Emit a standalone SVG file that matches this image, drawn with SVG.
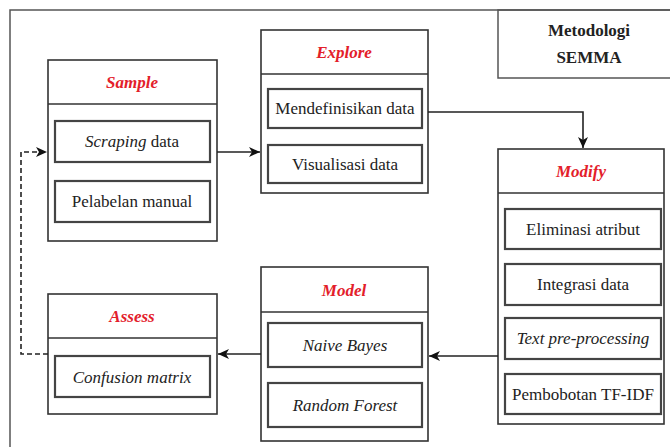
<svg xmlns="http://www.w3.org/2000/svg" width="670" height="447" viewBox="0 0 670 447">
  <defs>
    <marker id="arrow" markerUnits="userSpaceOnUse" markerWidth="12" markerHeight="12" viewBox="0 0 12 12" refX="11" refY="6" orient="auto">
      <path d="M0,1 L11,6 L0,11 L3,6 Z" fill="#111"/>
    </marker>
    <style>
      .frame { fill: none; stroke: #555; stroke-width: 1.5; }
      .node { fill: #fff; stroke: #333; stroke-width: 1.6; }
      .item { fill: #fff; stroke: #444; stroke-width: 2.2; }
      .sep { stroke: #333; stroke-width: 1.6; }
      .title { font-size: 17px; font-style: italic; font-weight: bold; fill: #e3202a; text-anchor: middle; }
      .label { font-size: 17px; fill: #222; text-anchor: middle; }
      .it { font-style: italic; }
      .head { font-size: 17px; font-weight: bold; fill: #222; text-anchor: middle; }
      .link { fill: none; stroke: #222; stroke-width: 1.6; }
      .dash { fill: none; stroke: #222; stroke-width: 1.6; stroke-dasharray: 5 3; }
    </style>
  </defs>

  <rect x="0" y="0" width="670" height="447" fill="#fff"/>
  <!-- outer frame -->
  <rect class="frame" x="10" y="10" width="700" height="500"/>

  <!-- title box -->
  <g id="semma">
    <rect class="frame" x="498" y="10" width="200" height="68"/>
    <text class="head" font-family="Liberation Serif" x="589" y="36">Metodologi</text>
    <text class="head" font-family="Liberation Serif" x="589" y="63">SEMMA</text>
  </g>

  <g id="sample">
    <rect class="node" x="48" y="60" width="169" height="181"/>
    <line class="sep" x1="48" y1="104" x2="217" y2="104"/>
    <text class="title" font-family="Liberation Serif" x="132" y="88">Sample</text>
    <rect class="item" x="55" y="121" width="155" height="41"/>
    <text class="label" font-family="Liberation Serif" x="132" y="147"><tspan class="it">Scraping</tspan> data</text>
    <rect class="item" x="55" y="181" width="155" height="41"/>
    <text class="label" font-family="Liberation Serif" x="132" y="207">Pelabelan manual</text>
  </g>

  <g id="explore">
    <rect class="node" x="261" y="30" width="167" height="163"/>
    <line class="sep" x1="261" y1="74" x2="428" y2="74"/>
    <text class="title" font-family="Liberation Serif" x="344" y="58">Explore</text>
    <rect class="item" x="268" y="89" width="154" height="39"/>
    <text class="label" font-family="Liberation Serif" x="345" y="114">Mendefinisikan data</text>
    <rect class="item" x="268" y="145" width="154" height="38"/>
    <text class="label" font-family="Liberation Serif" x="345" y="170">Visualisasi data</text>
  </g>

  <g id="modify">
    <rect class="node" x="498" y="149" width="166" height="275"/>
    <line class="sep" x1="498" y1="193" x2="664" y2="193"/>
    <text class="title" font-family="Liberation Serif" x="581" y="177">Modify</text>
    <rect class="item" x="505" y="209" width="156" height="40"/>
    <text class="label" font-family="Liberation Serif" x="583" y="235">Eliminasi atribut</text>
    <rect class="item" x="505" y="264" width="156" height="41"/>
    <text class="label" font-family="Liberation Serif" x="583" y="290">Integrasi data</text>
    <rect class="item" x="505" y="318" width="156" height="41"/>
    <text class="label it" font-family="Liberation Serif" x="583" y="344">Text pre-processing</text>
    <rect class="item" x="505" y="374" width="156" height="40"/>
    <text class="label" font-family="Liberation Serif" x="583" y="400">Pembobotan TF-IDF</text>
  </g>

  <g id="model">
    <rect class="node" x="261" y="267" width="167" height="174"/>
    <line class="sep" x1="261" y1="312" x2="428" y2="312"/>
    <text class="title" font-family="Liberation Serif" x="344" y="296">Model</text>
    <rect class="item" x="268" y="323" width="154" height="44"/>
    <text class="label it" font-family="Liberation Serif" x="345" y="351">Naive Bayes</text>
    <rect class="item" x="268" y="383" width="154" height="44"/>
    <text class="label it" font-family="Liberation Serif" x="345" y="411">Random Forest</text>
  </g>

  <g id="assess">
    <rect class="node" x="48" y="294" width="169" height="120"/>
    <line class="sep" x1="48" y1="338" x2="217" y2="338"/>
    <text class="title" font-family="Liberation Serif" x="132" y="322">Assess</text>
    <rect class="item" x="55" y="356" width="155" height="41"/>
    <text class="label it" font-family="Liberation Serif" x="132" y="383">Confusion matrix</text>
  </g>

  <g id="connectors">
    <path class="link" d="M217,152 H260" marker-end="url(#arrow)"/>
    <path class="link" d="M428,112 H583 V148" marker-end="url(#arrow)"/>
    <path class="link" d="M498,356 H429" marker-end="url(#arrow)"/>
    <path class="link" d="M261,354 H218" marker-end="url(#arrow)"/>
    <path class="dash" d="M48,354 H21 V152 H47" marker-end="url(#arrow)"/>
  </g>
</svg>
